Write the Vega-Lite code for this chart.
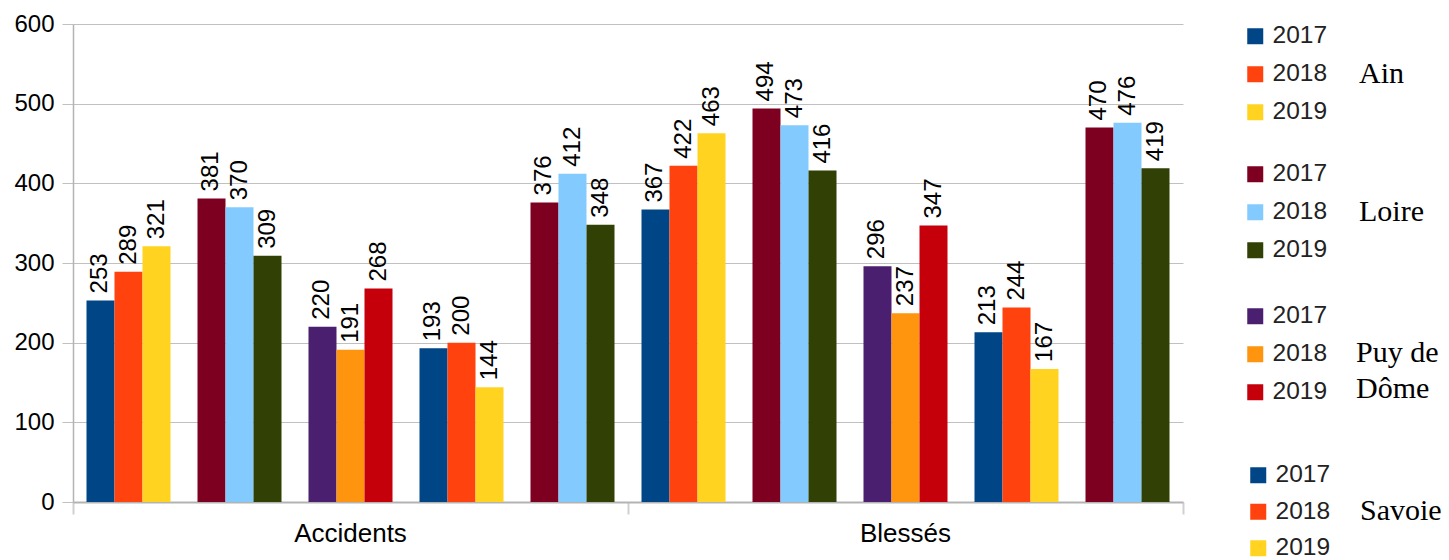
{
  "$schema": "https://vega.github.io/schema/vega-lite/v6.json",
  "width": 1110,
  "height": 478,
  "autosize": {"type": "none"},
  "padding": {"left": 73, "top": 24, "right": 266, "bottom": 58},
  "background": "white",
  "data": {
    "values": [
      {"cat": "Accidents", "grp": "Ain", "slot": "Accidents|Ain", "year": "2017", "v": 253},
      {"cat": "Accidents", "grp": "Ain", "slot": "Accidents|Ain", "year": "2018", "v": 289},
      {"cat": "Accidents", "grp": "Ain", "slot": "Accidents|Ain", "year": "2019", "v": 321},
      {"cat": "Accidents", "grp": "Loire", "slot": "Accidents|Loire", "year": "2017", "v": 381},
      {"cat": "Accidents", "grp": "Loire", "slot": "Accidents|Loire", "year": "2018", "v": 370},
      {"cat": "Accidents", "grp": "Loire", "slot": "Accidents|Loire", "year": "2019", "v": 309},
      {"cat": "Accidents", "grp": "Puy de Dôme", "slot": "Accidents|Puy de Dôme", "year": "2017", "v": 220},
      {"cat": "Accidents", "grp": "Puy de Dôme", "slot": "Accidents|Puy de Dôme", "year": "2018", "v": 191},
      {"cat": "Accidents", "grp": "Puy de Dôme", "slot": "Accidents|Puy de Dôme", "year": "2019", "v": 268},
      {"cat": "Accidents", "grp": "Savoie", "slot": "Accidents|Savoie", "year": "2017", "v": 193},
      {"cat": "Accidents", "grp": "Savoie", "slot": "Accidents|Savoie", "year": "2018", "v": 200},
      {"cat": "Accidents", "grp": "Savoie", "slot": "Accidents|Savoie", "year": "2019", "v": 144},
      {"cat": "Accidents", "grp": "Groupe 5", "slot": "Accidents|Groupe 5", "year": "2017", "v": 376},
      {"cat": "Accidents", "grp": "Groupe 5", "slot": "Accidents|Groupe 5", "year": "2018", "v": 412},
      {"cat": "Accidents", "grp": "Groupe 5", "slot": "Accidents|Groupe 5", "year": "2019", "v": 348},
      {"cat": "Blessés", "grp": "Ain", "slot": "Blessés|Ain", "year": "2017", "v": 367},
      {"cat": "Blessés", "grp": "Ain", "slot": "Blessés|Ain", "year": "2018", "v": 422},
      {"cat": "Blessés", "grp": "Ain", "slot": "Blessés|Ain", "year": "2019", "v": 463},
      {"cat": "Blessés", "grp": "Loire", "slot": "Blessés|Loire", "year": "2017", "v": 494},
      {"cat": "Blessés", "grp": "Loire", "slot": "Blessés|Loire", "year": "2018", "v": 473},
      {"cat": "Blessés", "grp": "Loire", "slot": "Blessés|Loire", "year": "2019", "v": 416},
      {"cat": "Blessés", "grp": "Puy de Dôme", "slot": "Blessés|Puy de Dôme", "year": "2017", "v": 296},
      {"cat": "Blessés", "grp": "Puy de Dôme", "slot": "Blessés|Puy de Dôme", "year": "2018", "v": 237},
      {"cat": "Blessés", "grp": "Puy de Dôme", "slot": "Blessés|Puy de Dôme", "year": "2019", "v": 347},
      {"cat": "Blessés", "grp": "Savoie", "slot": "Blessés|Savoie", "year": "2017", "v": 213},
      {"cat": "Blessés", "grp": "Savoie", "slot": "Blessés|Savoie", "year": "2018", "v": 244},
      {"cat": "Blessés", "grp": "Savoie", "slot": "Blessés|Savoie", "year": "2019", "v": 167},
      {"cat": "Blessés", "grp": "Groupe 5", "slot": "Blessés|Groupe 5", "year": "2017", "v": 470},
      {"cat": "Blessés", "grp": "Groupe 5", "slot": "Blessés|Groupe 5", "year": "2018", "v": 476},
      {"cat": "Blessés", "grp": "Groupe 5", "slot": "Blessés|Groupe 5", "year": "2019", "v": 419}
    ]
  },
  "encoding": {
    "x": {
      "field": "slot",
      "type": "nominal",
      "scale": {
        "domain": ["Accidents|Ain", "Accidents|Loire", "Accidents|Puy de Dôme", "Accidents|Savoie", "Accidents|Groupe 5",
                   "Blessés|Ain", "Blessés|Loire", "Blessés|Puy de Dôme", "Blessés|Savoie", "Blessés|Groupe 5"],
        "paddingInner": 0,
        "paddingOuter": 0
      },
      "axis": {
        "title": null,
        "bandPosition": 1,
        "tickExtra": true,
        "labelExpr": "datum.value === 'Accidents|Puy de Dôme' ? 'Accidents' : (datum.value === 'Blessés|Puy de Dôme' ? 'Blessés' : '')",
        "labelFont": "Liberation Sans",
        "labelFontSize": 26,
        "labelColor": "black",
        "labelPadding": 6,
        "labelAngle": 0,
        "domainColor": "#b3b3b3",
        "domainWidth": 2,
        "tickColor": "#d0d0d0",
        "tickWidth": 2,
        "tickSize": 12,
        "tickOpacity": {
          "condition": {"test": "datum.value === 'Accidents|Groupe 5' || datum.value === 'Blessés|Groupe 5' || datum.extra != null", "value": 1},
          "value": 0
        }
      }
    },
    "xOffset": {
      "field": "year",
      "type": "nominal",
      "scale": {"domain": ["2017", "2018", "2019"], "paddingInner": 0, "paddingOuter": 0.482}
    },
    "y": {
      "field": "v",
      "type": "quantitative",
      "scale": {"domain": [0, 600]},
      "axis": {
        "title": null,
        "values": [0, 100, 200, 300, 400, 500, 600],
        "grid": true,
        "gridColor": "#c0c0c0",
        "domainColor": "#b3b3b3",
        "domainWidth": 1.5,
        "tickColor": "#c0c0c0",
        "tickSize": 11,
        "labelFont": "Liberation Sans",
        "labelFontSize": 24,
        "labelColor": "black",
        "labelPadding": 8
      }
    }
  },
  "layer": [
    {
      "transform": [{"filter": "datum.grp === 'Ain'"}],
      "mark": {"type": "bar"},
      "encoding": {
        "color": {"field": "year", "type": "nominal",
          "scale": {"domain": ["2017", "2018", "2019"], "range": ["#004586", "#ff420e", "#ffd320"]},
          "legend": {"title": "Ain", "orient": "none", "legendX": 1170, "legendY": 0}}
      }
    },
    {
      "transform": [{"filter": "datum.grp === 'Loire'"}],
      "mark": {"type": "bar"},
      "encoding": {
        "color": {"field": "year", "type": "nominal",
          "scale": {"domain": ["2017", "2018", "2019"], "range": ["#7e0021", "#83caff", "#314004"]},
          "legend": {"title": "Loire", "orient": "none", "legendX": 1170, "legendY": 138}}
      }
    },
    {
      "transform": [{"filter": "datum.grp === 'Puy de Dôme'"}],
      "mark": {"type": "bar"},
      "encoding": {
        "color": {"field": "year", "type": "nominal",
          "scale": {"domain": ["2017", "2018", "2019"], "range": ["#4b1f6f", "#ff950e", "#c5000b"]},
          "legend": {"title": ["Puy de", "Dôme"], "orient": "none", "legendX": 1170, "legendY": 280,
                     "titleAnchor": "end", "titleBaseline": "bottom", "titlePadding": 29}}
      }
    },
    {
      "transform": [{"filter": "datum.grp === 'Savoie'"}],
      "mark": {"type": "bar"},
      "encoding": {
        "color": {"field": "year", "type": "nominal",
          "scale": {"domain": ["2017", "2018", "2019"], "range": ["#004586", "#ff420e", "#ffd320"]},
          "legend": {"title": "Savoie", "orient": "none", "legendX": 1173, "legendY": 439, "rowPadding": 11.5, "titlePadding": 30}}
      }
    },
    {
      "transform": [{"filter": "datum.grp === 'Groupe 5'"}],
      "mark": {"type": "bar"},
      "encoding": {
        "color": {"field": "year", "type": "nominal",
          "scale": {"domain": ["2017", "2018", "2019"], "range": ["#7e0021", "#83caff", "#314004"]},
          "legend": null}
      }
    },
    {
      "mark": {"type": "text", "angle": 270, "align": "left", "baseline": "middle", "dx": 7,
               "font": "Liberation Sans", "fontSize": 24, "color": "black"},
      "encoding": {
        "text": {"field": "v", "type": "quantitative"}
      }
    }
  ],
  "resolve": {"scale": {"color": "independent"}},
  "config": {
    "view": {"stroke": null},
    "legend": {
      "padding": 0,
      "symbolType": "square",
      "symbolSize": 256,
      "symbolStrokeWidth": 0,
      "labelFont": "Liberation Sans",
      "labelFontSize": 24.5,
      "labelColor": "#222222",
      "labelOffset": 5,
      "rowPadding": 13,
      "titleOrient": "right",
      "titleFont": "Liberation Serif",
      "titleFontSize": 30,
      "titleFontWeight": "normal",
      "titleColor": "black",
      "titlePadding": 32,
      "titleAnchor": "middle",
      "titleBaseline": "middle",
      "titleLineHeight": 36,
      "titleLimit": 300
    }
  }
}
